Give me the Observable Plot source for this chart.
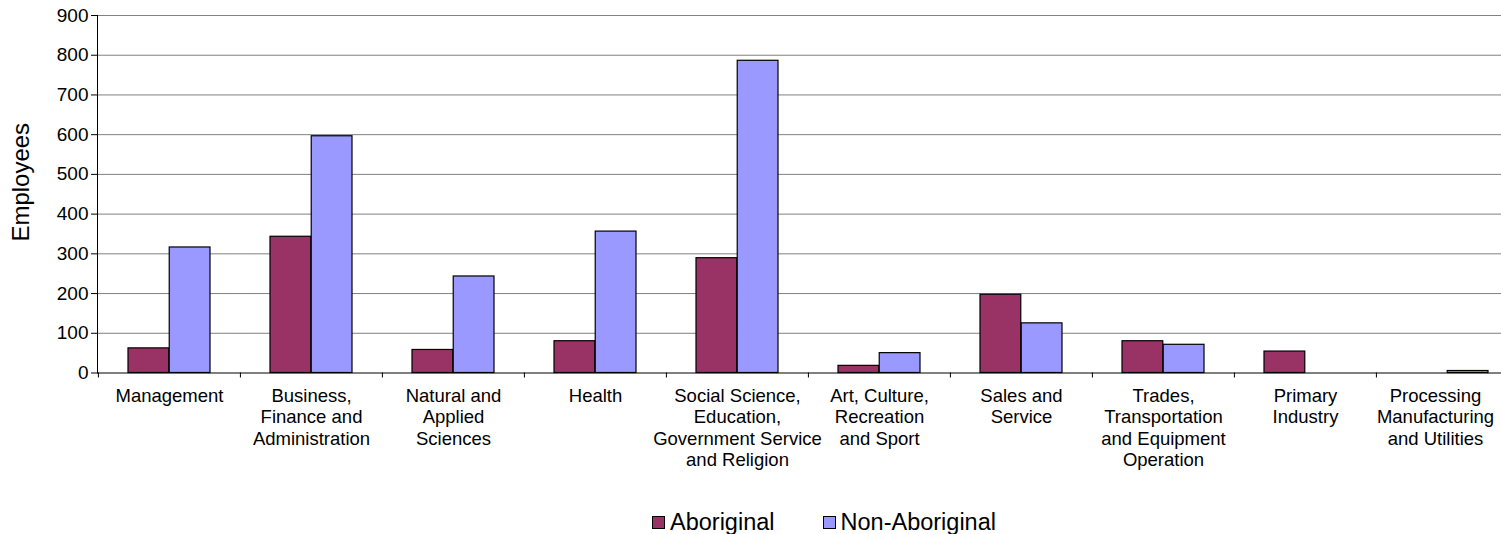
<!DOCTYPE html>
<html>
<head>
<meta charset="utf-8">
<script src="https://cdn.jsdelivr.net/npm/d3@7"></script>
<script src="https://cdn.jsdelivr.net/npm/@observablehq/plot@0.6"></script>
<style>
  html, body { margin: 0; padding: 0; background: #fff; overflow: hidden; }
  #wrap { position: relative; width: 1501px; height: 534px; font-family: "Liberation Sans", Arial, sans-serif; }
  #legend { position: absolute; top: 508px; left: 652px; height: 28px; display: flex; align-items: center; font-size: 23.5px; color: #000; }
  .sw { width: 11px; height: 11px; border: 1px solid #000; display: inline-block; margin-right: 5px; }
  .item { display: flex; align-items: center; margin-right: 48px; }
</style>
</head>
<body>
<div id="wrap"><div id="chart"></div><div id="legend"></div></div>
<script>
const categories = [
  "Management",
  "Business, Finance and Administration",
  "Natural and Applied Sciences",
  "Health",
  "Social Science, Education, Government Service and Religion",
  "Art, Culture, Recreation and Sport",
  "Sales and Service",
  "Trades, Transportation and Equipment Operation",
  "Primary Industry",
  "Processing Manufacturing and Utilities"
];
const tickLabels = [
  "Management",
  "Business,\nFinance and\nAdministration",
  "Natural and\nApplied\nSciences",
  "Health",
  "Social Science,\nEducation,\nGovernment Service\nand Religion",
  "Art, Culture,\nRecreation\nand Sport",
  "Sales and\nService",
  "Trades,\nTransportation\nand Equipment\nOperation",
  "Primary\nIndustry",
  "Processing\nManufacturing\nand Utilities"
];
const series = ["Aboriginal", "Non-Aboriginal"];
const aboriginal = [62, 343, 58, 80, 289, 18, 197, 80, 54, 0];
const nonAboriginal = [316, 596, 243, 356, 786, 50, 125, 71, 0, 5];
const yTicks = [0, 100, 200, 300, 400, 500, 600, 700, 800, 900];
const colors = ["#993366", "#9999FF"];

const abData = categories.map((c, i) => ({category: c, value: aboriginal[i]}));
const nonData = categories.map((c, i) => ({category: c, value: nonAboriginal[i]}));
const labelData = categories.map((c, i) => ({category: c, label: tickLabels[i]}));

const xRange = [97.4, 1519];
const pIn = 0.42, pOut = 0.21;
const step = (xRange[1] - xRange[0]) / (categories.length - pIn + 2 * pOut);
const bw = step * (1 - pIn);
const font = "Liberation Sans, Arial, sans-serif";
const labelOpts = {x: "category", text: "label", frameAnchor: "bottom", lineAnchor: "top", dy: 14, fontSize: 18.5, lineHeight: 1.15, fill: "#000"};

const chart = Plot.plot({
  width: 1501,
  height: 500,
  marginTop: 15,
  marginBottom: 127.5,
  marginLeft: 97,
  marginRight: 0,
  style: {fontFamily: font, color: "#000", background: "#fff"},
  x: {type: "band", domain: categories, range: xRange, paddingInner: pIn, paddingOuter: pOut, axis: null},
  y: {domain: [0, 900], axis: null},
  marks: [
    Plot.gridY(yTicks.filter(d => d > 0), {stroke: "#808080", strokeOpacity: 1, strokeWidth: 1}),
    Plot.barY(abData, {x: "category", y: "value", fill: colors[0], stroke: "#000", strokeWidth: 1.2, insetRight: bw / 2}),
    Plot.barY(nonData, {x: "category", y: "value", fill: colors[1], stroke: "#000", strokeWidth: 1.2, insetLeft: bw / 2}),
    Plot.ruleY([0], {stroke: "#000", strokeWidth: 1}),
    Plot.frame({anchor: "left", stroke: "#000", strokeWidth: 1}),
    Plot.axisY({ticks: yTicks, tickSize: 6, tickPadding: 3, fontSize: 19, label: null, tickFormat: d => String(d)}),
    Plot.axisX({ticks: categories, tickSize: 5, tickFormat: null, label: null, dx: -step / 2}),
    Plot.text(labelData.slice(0, -1), labelOpts),
    Plot.text(labelData.slice(-1), {...labelOpts, dx: -12}),
    Plot.text(["Employees"], {text: d => d, frameAnchor: "left", textAnchor: "middle", lineAnchor: "middle", rotate: -90, dx: -76, dy: -12, fontSize: 24, fill: "#000"})
  ]
});
document.getElementById("chart").appendChild(chart);

const legend = document.getElementById("legend");
series.forEach((s, i) => {
  const item = document.createElement("div");
  item.className = "item";
  const sw = document.createElement("span");
  sw.className = "sw";
  sw.style.background = colors[i];
  item.appendChild(sw);
  item.appendChild(document.createTextNode(s));
  legend.appendChild(item);
});
</script>
</body>
</html>
